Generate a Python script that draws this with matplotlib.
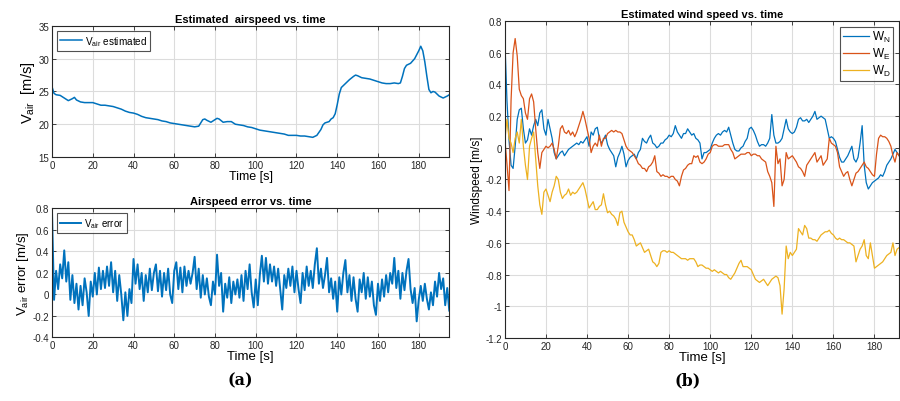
import numpy as np
import matplotlib.pyplot as plt
from matplotlib.ticker import FormatStrFormatter

plt.rcParams['font.family'] = ['Liberation Sans', 'DejaVu Sans']
plt.rcParams['mathtext.default'] = 'regular'

# estimated airspeed [m/s]
t_air = [0, 1, 2, 4, 6, 8, 10, 11, 12, 14, 16, 18, 20, 22, 24, 26, 28, 30, 32, 34, 36, 38,
         40, 42, 44, 46, 48, 50, 52, 54, 56, 58, 60, 62, 64, 66, 68, 70, 72, 73, 74, 75,
         76, 78, 80, 81, 82, 84, 86, 88, 90, 92, 94, 96, 98, 100, 102, 104, 106, 108, 110,
         112, 114, 116, 118, 120, 122, 124, 126, 128, 130, 132, 133, 134, 136, 137, 138,
         139, 140, 141, 142, 144, 146, 148, 149, 150, 152, 154, 156, 158, 160, 162, 164,
         166, 168, 170, 171, 172, 173, 174, 176, 178, 180, 181, 182, 183, 184, 185, 186,
         187, 188, 190, 192, 194, 195]
v_air = [25.7, 24.7, 24.5, 24.4, 24.0, 23.6, 23.9, 24.1, 23.7, 23.4, 23.3, 23.3, 23.3, 23.1,
         22.9, 22.9, 22.8, 22.7, 22.5, 22.3, 22.0, 21.8, 21.7, 21.5, 21.2, 21.0, 20.9, 20.8,
         20.7, 20.5, 20.4, 20.2, 20.1, 20.0, 19.9, 19.8, 19.7, 19.6, 19.7, 20.2, 20.7, 20.8,
         20.6, 20.3, 20.7, 20.9, 20.8, 20.3, 20.4, 20.4, 20.0, 19.9, 19.8, 19.6, 19.5, 19.3,
         19.1, 19.0, 18.9, 18.8, 18.7, 18.6, 18.5, 18.3, 18.3, 18.3, 18.2, 18.2, 18.1, 18.0,
         18.3, 19.2, 19.9, 20.2, 20.4, 20.8, 21.0, 21.6, 23.0, 24.6, 25.6, 26.2, 26.8, 27.3,
         27.5, 27.4, 27.1, 27.0, 26.9, 26.7, 26.5, 26.3, 26.2, 26.2, 26.3, 26.2, 26.3, 27.3,
         28.5, 29.0, 29.3, 30.0, 31.2, 31.9, 31.2, 29.5, 27.3, 25.3, 24.8, 25.0, 24.9, 24.3,
         24.0, 24.3, 24.5]

# airspeed error [m/s], one sample per second
t_err = np.arange(0, 196)
v_err = [0.76, -0.05, 0.22, 0.05, 0.28, 0.15, 0.41, 0.12, 0.30, -0.05,
         0.18, -0.08, 0.10, -0.14, 0.08, -0.10, 0.15, 0.02, -0.20, 0.12,
         -0.02, 0.20, 0.00, 0.25, 0.05, 0.22, 0.06, 0.26, 0.08, 0.30,
         0.02, 0.22, -0.06, 0.18, 0.00, -0.24, 0.02, -0.20, 0.05, -0.08,
         0.33, 0.10, 0.28, 0.05, 0.20, -0.06, 0.18, 0.02, 0.24, 0.04,
         0.20, 0.28, 0.03, 0.22, -0.02, 0.20, 0.04, 0.24, 0.00, -0.08,
         0.22, 0.30, 0.05, 0.25, 0.02, 0.26, 0.08, 0.22, 0.10, 0.20,
         0.35, 0.05, 0.24, -0.03, 0.18, 0.00, 0.15, -0.02, -0.10, 0.12,
         0.00, 0.37, 0.08, 0.20, -0.16, 0.10, -0.03, 0.16, -0.08, 0.12,
         0.00, 0.14, -0.03, 0.18, -0.06, 0.22, 0.05, 0.28, 0.02, -0.12,
         0.14, -0.10, 0.18, 0.36, 0.12, 0.34, 0.10, 0.28, 0.12, 0.26,
         0.08, 0.24, 0.05, -0.14, 0.18, 0.06, 0.24, 0.08, 0.26, 0.02,
         0.22, 0.05, -0.08, 0.20, 0.04, 0.26, 0.08, 0.22, 0.06, 0.28,
         0.43, 0.10, 0.24, 0.06, 0.18, 0.34, 0.02, 0.15, -0.04, 0.12,
         -0.16, 0.16, 0.00, 0.20, 0.32, 0.02, 0.18, -0.06, 0.16, -0.04,
         -0.16, 0.14, 0.02, 0.20, -0.04, 0.16, -0.02, 0.12, -0.10, -0.19,
         0.10, -0.06, 0.14, -0.02, 0.18, 0.02, 0.20, 0.10, 0.34, 0.06,
         0.22, -0.04, 0.20, 0.04, 0.22, 0.33, 0.05, -0.08, 0.06, -0.25,
         -0.05, 0.08, -0.06, 0.10, -0.04, -0.14, 0.02, -0.10, 0.12, -0.02,
         0.20, 0.05, 0.15, -0.10, 0.06, -0.15]

# wind estimate components [m/s], one sample per second
t_wind = np.arange(0, 193)
w_n = [0.67, 0.30, 0.05, -0.11, -0.13, 0.01, 0.18, 0.24, 0.25, 0.12,
       0.03, 0.05, 0.12, 0.08, 0.14, 0.18, 0.14, 0.22, 0.24, 0.12,
       0.08, 0.18, 0.12, 0.06, -0.03, -0.07, -0.05, -0.03, -0.02, -0.05,
       -0.03, -0.01, 0.00, 0.01, 0.02, 0.03, 0.02, 0.04, 0.03, 0.05,
       0.07, 0.01, 0.10, 0.08, 0.12, 0.13, 0.06, 0.03, 0.05, 0.08,
       0.02, -0.01, -0.03, -0.05, -0.12, -0.06, -0.03, 0.01, -0.04, -0.12,
       -0.08, -0.06, -0.05, -0.04, -0.07, -0.03, -0.01, 0.06, 0.04, 0.03,
       0.06, 0.08, 0.03, 0.02, 0.00, 0.01, 0.03, 0.03, 0.05, 0.06,
       0.08, 0.07, 0.09, 0.14, 0.10, 0.08, 0.06, 0.09, 0.09, 0.12,
       0.10, 0.08, 0.09, 0.06, 0.05, 0.03, -0.07, -0.03, -0.03, -0.02,
       -0.01, 0.03, 0.06, 0.08, 0.09, 0.08, 0.10, 0.11, 0.10, 0.13,
       0.08, 0.03, -0.01, -0.02, -0.02, 0.00, 0.01, 0.04, 0.06, 0.12,
       0.13, 0.11, 0.08, 0.04, 0.01, 0.02, 0.02, 0.01, 0.03, 0.06,
       0.21, 0.08, 0.03, 0.03, 0.04, 0.06, 0.12, 0.18, 0.12, 0.10,
       0.09, 0.10, 0.13, 0.18, 0.19, 0.17, 0.17, 0.18, 0.16, 0.18,
       0.20, 0.23, 0.18, 0.19, 0.20, 0.19, 0.18, 0.12, 0.06, 0.07,
       0.06, 0.04, -0.01, -0.06, -0.09, -0.09, -0.07, -0.05, -0.02, 0.01,
       -0.07, -0.09, -0.06, 0.03, 0.14, -0.11, -0.22, -0.26, -0.24, -0.22,
       -0.21, -0.20, -0.19, -0.17, -0.18, -0.15, -0.11, -0.09, -0.07, -0.04,
       -0.01, -0.03, -0.05]
w_e = [0.05, -0.10, -0.27, 0.30, 0.60, 0.69, 0.58, 0.37, 0.33, 0.31,
       0.22, 0.18, 0.31, 0.34, 0.29, 0.12, -0.03, -0.13, -0.03, -0.01,
       0.01, 0.00, 0.01, 0.03, -0.01, -0.07, 0.01, 0.12, 0.14, 0.10,
       0.09, 0.11, 0.08, 0.10, 0.07, 0.10, 0.14, 0.18, 0.23, 0.18,
       0.12, 0.06, -0.03, 0.01, 0.03, 0.01, 0.08, 0.01, 0.06, 0.06,
       0.09, 0.10, 0.11, 0.10, 0.11, 0.10, 0.10, 0.09, 0.05, 0.01,
       -0.01, -0.02, -0.03, -0.05, -0.07, -0.10, -0.11, -0.13, -0.13, -0.15,
       -0.12, -0.11, -0.09, -0.05, -0.15, -0.16, -0.18, -0.17, -0.18, -0.18,
       -0.19, -0.18, -0.18, -0.20, -0.21, -0.24, -0.18, -0.14, -0.13, -0.11,
       -0.10, -0.10, -0.05, -0.06, -0.05, -0.09, -0.10, -0.09, -0.07, -0.04,
       -0.03, 0.01, 0.02, 0.02, 0.01, 0.01, 0.01, 0.02, 0.02, 0.02,
       -0.01, -0.03, -0.07, -0.06, -0.05, -0.04, -0.04, -0.04, -0.03, -0.03,
       -0.05, -0.04, -0.04, -0.05, -0.05, -0.07, -0.08, -0.09, -0.15, -0.18,
       -0.22, -0.37, 0.01, -0.10, -0.07, -0.24, -0.20, -0.03, -0.07, -0.06,
       -0.05, -0.07, -0.09, -0.12, -0.13, -0.15, -0.18, -0.11, -0.09, -0.07,
       -0.05, -0.03, -0.09, -0.07, -0.05, -0.11, -0.09, -0.07, 0.06, 0.03,
       0.02, 0.01, -0.03, -0.12, -0.15, -0.18, -0.16, -0.15, -0.20, -0.24,
       -0.20, -0.16, -0.15, -0.13, -0.11, -0.09, -0.12, -0.13, -0.15, -0.17,
       -0.18, -0.04, 0.06, 0.08, 0.07, 0.07, 0.06, 0.04, 0.01, -0.05,
       -0.09, -0.03, -0.05]
w_d = [0.05, 0.18, 0.06, 0.03, -0.03, 0.06, 0.10, 0.03, 0.18, 0.01,
       -0.11, -0.20, 0.01, 0.06, 0.10, -0.07, -0.24, -0.36, -0.42, -0.28,
       -0.26, -0.30, -0.34, -0.28, -0.24, -0.18, -0.20, -0.28, -0.32, -0.30,
       -0.29, -0.26, -0.30, -0.28, -0.29, -0.28, -0.26, -0.24, -0.22, -0.26,
       -0.32, -0.38, -0.36, -0.34, -0.39, -0.39, -0.37, -0.36, -0.29, -0.36,
       -0.41, -0.40, -0.42, -0.43, -0.45, -0.49, -0.41, -0.40, -0.47, -0.50,
       -0.53, -0.55, -0.55, -0.58, -0.62, -0.61, -0.60, -0.63, -0.66, -0.65,
       -0.64, -0.68, -0.72, -0.73, -0.75, -0.73, -0.66, -0.65, -0.65, -0.66,
       -0.65, -0.66, -0.66, -0.67, -0.68, -0.69, -0.70, -0.70, -0.70, -0.71,
       -0.70, -0.70, -0.70, -0.72, -0.75, -0.74, -0.74, -0.75, -0.76, -0.76,
       -0.77, -0.78, -0.77, -0.78, -0.79, -0.78, -0.79, -0.80, -0.80, -0.82,
       -0.83, -0.81, -0.79, -0.76, -0.73, -0.71, -0.75, -0.75, -0.75, -0.76,
       -0.77, -0.80, -0.83, -0.84, -0.85, -0.84, -0.83, -0.85, -0.87, -0.85,
       -0.83, -0.82, -0.81, -0.82, -0.87, -1.05, -0.89, -0.62, -0.70, -0.66,
       -0.68, -0.66, -0.64, -0.51, -0.53, -0.55, -0.49, -0.51, -0.57, -0.57,
       -0.58, -0.58, -0.59, -0.57, -0.55, -0.54, -0.53, -0.53, -0.52, -0.54,
       -0.55, -0.57, -0.58, -0.57, -0.58, -0.58, -0.59, -0.60, -0.60, -0.61,
       -0.62, -0.72, -0.68, -0.64, -0.62, -0.58, -0.68, -0.70, -0.60, -0.68,
       -0.76, -0.75, -0.74, -0.73, -0.72, -0.70, -0.68, -0.67, -0.66, -0.60,
       -0.68, -0.64, -0.63]

c_blue = '#0072BD'
c_orange = '#D95319'
c_yellow = '#EDB120'
c_axis = '#262626'


def style(ax, xlim, ylim, yticks):
    ax.set_xlim(*xlim)
    ax.set_ylim(*ylim)
    ax.set_xticks(np.arange(0, 181, 20))
    # round and add 0.0 so the zero tick is printed as "0", not "-0"
    ax.set_yticks(np.round(yticks, 2) + 0.0)
    ax.yaxis.set_major_formatter(FormatStrFormatter('%g'))
    ax.grid(True, color='#dcdcdc', lw=0.8)
    ax.set_axisbelow(True)
    ax.tick_params(direction='in', length=3, width=0.6, labelsize=7,
                   colors=c_axis, top=True, right=True, pad=2)
    for s in ax.spines.values():
        s.set_color(c_axis)
        s.set_linewidth(0.8)


def box_legend(ax, loc, size, **kw):
    leg = ax.legend(loc=loc, fontsize=size, frameon=True, fancybox=False,
                    edgecolor=c_axis, handlelength=2.2, handletextpad=0.3,
                    borderaxespad=0.5, **kw)
    leg.get_frame().set_linewidth(0.8)


fig = plt.figure(figsize=(9, 4.02), dpi=100)

# (a) top: airspeed
ax1 = fig.add_axes([0.0578, 0.607, 0.4414, 0.326])
ax1.plot(t_air, v_air, color=c_blue, lw=1.1, label=r'$V_{air}$ estimated')
style(ax1, (0, 195), (15, 35), np.arange(15, 36, 5))
ax1.set_title('Estimated  airspeed vs. time', fontsize=8, fontweight='bold', pad=3)
ax1.set_xlabel('Time [s]', fontsize=9, labelpad=0)
ax1.set_ylabel(r'$V_{air}$  [m/s]', fontsize=10.5, labelpad=1)
box_legend(ax1, 'upper left', 7.2, borderpad=0.3)

# (a) bottom: airspeed error
ax2 = fig.add_axes([0.0578, 0.158, 0.4414, 0.321])
ax2.plot(t_err, v_err, color=c_blue, lw=1.4, label=r'$V_{air}$ error')
style(ax2, (0, 195), (-0.4, 0.8), np.arange(-0.4, 0.81, 0.2))
ax2.set_title('Airspeed error vs. time', fontsize=8, fontweight='bold', pad=3)
ax2.set_xlabel('Time [s]', fontsize=9.5, labelpad=0)
ax2.set_ylabel(r'$V_{air}$ error [m/s]', fontsize=9.5, labelpad=1)
box_legend(ax2, 'upper left', 7, borderpad=0.3)

# (b) wind speed components
ax3 = fig.add_axes([0.561, 0.157, 0.438, 0.788])
ax3.plot(t_wind, w_n, color=c_blue, lw=0.9, label=r'$W_N$')
ax3.plot(t_wind, w_e, color=c_orange, lw=0.9, label=r'$W_E$')
ax3.plot(t_wind, w_d, color=c_yellow, lw=0.9, label=r'$W_D$')
style(ax3, (0, 192), (-1.2, 0.8), np.arange(-1.2, 0.81, 0.2))
ax3.set_title('Estimated wind speed vs. time', fontsize=8, fontweight='bold', pad=3)
ax3.set_xlabel('Time [s]', fontsize=9.5, labelpad=0)
ax3.set_ylabel('Windspeed [m/s]', fontsize=8.5, labelpad=2)
box_legend(ax3, 'upper right', 8.5, borderpad=0.2, labelspacing=0.15)

fig.text(0.267, 0.052, '(a)', ha='center', va='center', fontsize=11.5,
         fontfamily='DejaVu Serif', fontweight='bold')
fig.text(0.764, 0.052, '(b)', ha='center', va='center', fontsize=11.5,
         fontfamily='DejaVu Serif', fontweight='bold')

fig.savefig('out.png', dpi=100)
